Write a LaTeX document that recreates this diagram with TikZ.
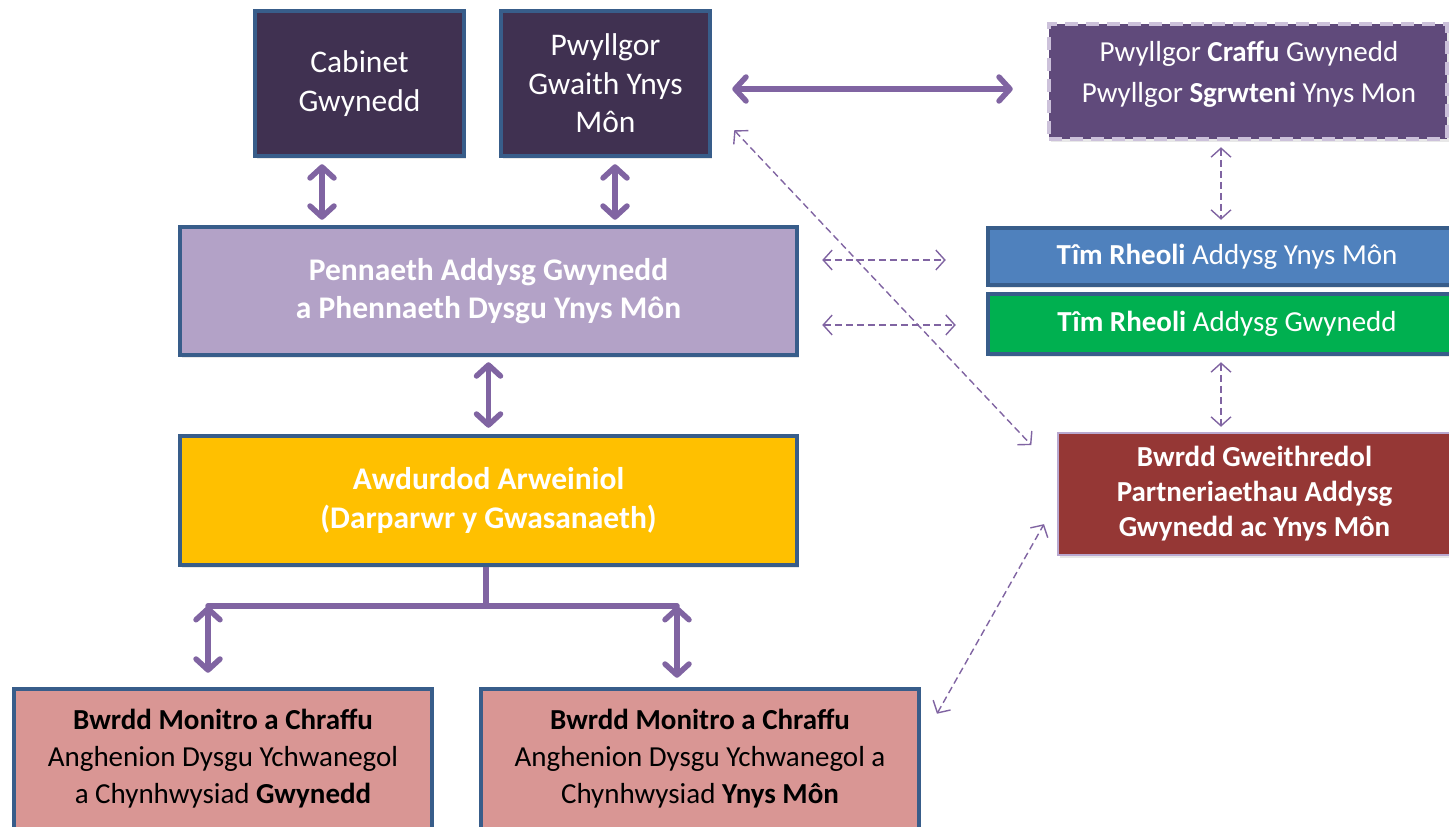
\documentclass[tikz,border=0pt]{standalone}
\usepackage{fontspec}
\setmainfont{Carlito}
\usetikzlibrary{arrows.meta,shadows}
\definecolor{darkbox}{HTML}{403151}
\definecolor{boxline}{HTML}{385D8A}
\definecolor{craffufill}{HTML}{604A7B}
\definecolor{craffuline}{HTML}{CCC1DA}
\definecolor{lilac}{HTML}{B3A2C7}
\definecolor{gold}{HTML}{FFC000}
\definecolor{bluebox}{HTML}{4F81BD}
\definecolor{greenbox}{HTML}{00B050}
\definecolor{redbox}{HTML}{953735}
\definecolor{redline}{HTML}{B9A8CF}
\definecolor{pinkbox}{HTML}{D99694}
\definecolor{arrowc}{HTML}{8064A2}
\begin{document}
\begin{tikzpicture}[x=1pt,y=-1pt,
  box/.style={rectangle, draw=boxline, line width=4.5pt, inner sep=0pt, align=center, text=white,
    drop shadow={opacity=0.18, shadow xshift=2pt, shadow yshift=-3pt}},
  big/.style={font=\fontsize{31.5}{38.5}\selectfont},
  small/.style={font=\fontsize{29}{37}\selectfont},
  solidarr/.style={draw=arrowc, line width=5.5pt, line cap=round,
    {Straight Barb[length=11pt,width=24pt,line cap=round,line join=round]}-{Straight Barb[length=11pt,width=24pt,line cap=round,line join=round]}},
  dasharr/.style={draw=arrowc, line width=1.4pt, dash pattern=on 7pt off 4pt,
    {Straight Barb[length=9pt,width=20pt]}-{Straight Barb[length=9pt,width=20pt]}},
  barline/.style={draw=arrowc, line width=5.5pt}
]
\useasboundingbox (0,0) rectangle (1449,827);
\clip (0,0) rectangle (1449,827);

% top boxes
\node[box, fill=darkbox, big, minimum width=209pt, minimum height=145pt] (cabinet) at (359.5,83.5) {Cabinet\\Gwynedd};
\node[box, fill=darkbox, big, minimum width=209pt, minimum height=145pt] (gwaith) at (605.5,83.5) {Pwyllgor\\Gwaith Ynys\\Môn};
\node[box, draw=craffuline, fill=craffufill, line width=4.5pt, dash pattern=on 13pt off 8pt, minimum width=398pt, minimum height=115pt] (craffu) at (1248,81.5) {};
\node[align=center, text=white, font=\fontsize{29}{41}\selectfont, inner sep=0pt] (craffutxt) at (1249,74.5) {Pwyllgor \textbf{Craffu} Gwynedd\\Pwyllgor \textbf{Sgrwteni} Ynys Mon};

% middle boxes
\node[box, fill=lilac, font=\bfseries\fontsize{31.5}{38.5}\selectfont, minimum width=617pt, minimum height=128pt] (pennaeth) at (488.5,291) {Pennaeth Addysg Gwynedd\\a Phennaeth Dysgu Ynys Môn};
\node[box, fill=gold, font=\bfseries\fontsize{31.5}{39}\selectfont, minimum width=617pt, minimum height=129pt] (awdurdod) at (488.5,500.5) {Awdurdod Arweiniol\\(Darparwr y Gwasanaeth)};

% right boxes
\node[box, fill=bluebox, small, minimum width=478pt, minimum height=57pt] (timmon) at (1227,256.5) {\textbf{Tîm Rheoli} Addysg Ynys Môn};
\node[box, fill=greenbox, small, minimum width=478pt, minimum height=60pt] (timgwy) at (1227,324) {\textbf{Tîm Rheoli} Addysg Gwynedd};
\node[box, draw=redline, line width=2.5pt, fill=redbox, font=\bfseries\fontsize{29}{35}\selectfont, minimum width=393pt, minimum height=122pt] (bwrdd) at (1254.5,494) {Bwrdd Gweithredol\\Partneriaethau Addysg\\Gwynedd ac Ynys Môn};

% bottom boxes
\node[box, fill=pinkbox, text=black, small, minimum width=418pt, minimum height=140pt] (bgwy) at (223,759) {\textbf{Bwrdd Monitro a Chraffu}\\Anghenion Dysgu Ychwanegol\\a Chynhwysiad \textbf{Gwynedd}};
\node[box, fill=pinkbox, text=black, small, minimum width=438pt, minimum height=140pt] (bmon) at (700,759) {\textbf{Bwrdd Monitro a Chraffu}\\Anghenion Dysgu Ychwanegol a\\Chynhwysiad \textbf{Ynys Môn}};

% solid connectors
\draw[solidarr, shorten <=6pt, shorten >=5pt] (cabinet.south -| 322,0) -- (pennaeth.north -| 322,0);
\draw[solidarr, shorten <=6pt, shorten >=5pt] (gwaith.south -| 615,0) -- (pennaeth.north -| 615,0);
\draw[solidarr, shorten <=5pt, shorten >=6pt] (pennaeth.south) -- (awdurdod.north);
\draw[solidarr, shorten <=20pt, shorten >=34pt] (gwaith.east |- 0,89) -- (craffu.west |- 0,89);

\coordinate (barmid) at (486,606);
\coordinate (barleft) at (208,606);
\coordinate (barright) at (677,606);
\draw[barline] (awdurdod.south -| barmid) -- (barmid);
\draw[barline, line cap=round] (barleft) -- (barright);
\draw[solidarr, shorten >=14pt] (barleft) -- (bgwy.north -| barleft);
\draw[solidarr, shorten >=9pt] (barright) -- (bmon.north -| barright);

% dashed connectors
\draw[dasharr, shorten <=23pt, shorten >=40pt] (pennaeth.east |- 0,260) -- (timmon.west |- 0,260);
\draw[dasharr, shorten <=23pt, shorten >=30pt] (pennaeth.east |- 0,325) -- (timgwy.west |- 0,325);
\draw[dasharr, shorten <=6pt, shorten >=6pt] (craffu.south -| 1221,0) -- (timmon.north -| 1221,0);
\draw[dasharr, shorten <=6pt, shorten >=5pt] (timgwy.south -| 1221,0) -- (bwrdd.north -| 1221,0);
\draw[dasharr, shorten <=32pt, shorten >=37pt] (gwaith.east |- 0,107) -- (bwrdd.west |- 0,472);
\draw[dasharr, shorten <=32pt, shorten >=26pt] (bmon.east |- 0,741.6) -- (bwrdd.west |- 0,501.5);
\end{tikzpicture}
\end{document}
